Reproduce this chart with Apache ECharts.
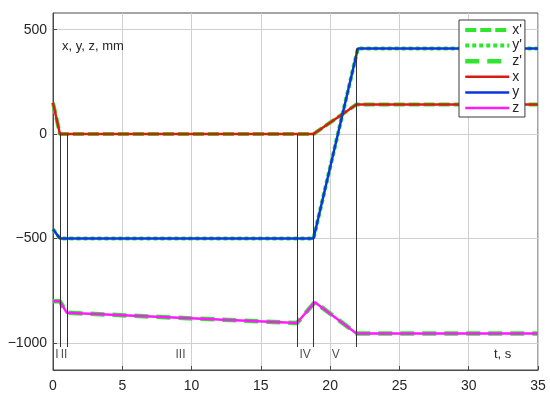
<!DOCTYPE html>
<html>
<head>
<meta charset="utf-8">
<script src="https://cdn.jsdelivr.net/npm/echarts@6/dist/echarts.min.js"></script>
<style>html,body{margin:0;padding:0;background:#fff}#c{width:550px;height:400px}</style>
</head>
<body>
<div id="c"></div>
<script>
// time points (s) and coordinates (mm)
var tX = [0, 0.5, 18.8, 21.9, 35];
var xVals = [150, 0, 0, 142, 142];
var tY = [0, 0.5, 18.8, 22.0, 35];
var yVals = [-456, -500, -500, 410, 410];
var tZ = [0, 0.5, 1.0, 17.6, 18.9, 21.9, 35];
var zVals = [-801, -801, -856, -905, -805, -955, -955];

var xTicks = [0, 5, 10, 15, 20, 25, 30, 35];
var yTicks = [-1000, -500, 0, 500];

// phase boundaries: time, top value of marker line
var phaseTimes = [0.5, 1.0, 17.6, 18.8, 21.9];
var phaseTops = [0, 0, 0, 0, 410];
var phaseBottom = -1020;
var phaseNames = ['I', 'II', 'III', 'IV', 'V'];
var phaseLabelT = [0.28, 0.8, 9.2, 18.2, 20.4];
var phaseLabelV = -1057;

function pairs(t, v) { return t.map(function (tt, i) { return [tt, v[i]]; }); }

var green = '#2ee62e';
var red = '#dc1a14', blue = '#0a35e0', mag = '#ff1aff';
var font = 'Liberation Sans, Arial, sans-serif';

var chart = echarts.init(document.getElementById('c'), null, {renderer: 'canvas'});

var phaseLines = phaseTimes.map(function (t, i) {
  return [{coord: [t, phaseTops[i]]}, {coord: [t, phaseBottom]}];
});
var phaseLabelData = phaseNames.map(function (n, i) { return {value: [phaseLabelT[i], phaseLabelV], name: n}; });

var styles = {
  "x'": {color: green, width: 4, type: [11, 4]},
  "y'": {color: green, width: 4, type: [4, 3]},
  "z'": {color: green, width: 4.5, type: [14, 8]},
  'x': {color: red, width: 2.5, type: 'solid'},
  'y': {color: blue, width: 2.5, type: 'solid'},
  'z': {color: mag, width: 2.5, type: 'solid'}
};
var legendNames = ["x'", "y'", "z'", 'x', 'y', 'z'];

function lineSeries(name, t, v, z) {
  var s = styles[name];
  return {name: name, type: 'line', data: pairs(t, v), symbol: 'none', z: z,
    itemStyle: {color: s.color}, lineStyle: {color: s.color, width: s.width, type: s.type}};
}

chart.setOption({
  animation: false,
  grid: {left: 53, right: 12, top: 13, bottom: 30, show: true, borderColor: '#4a4a4a', borderWidth: 1, backgroundColor: '#fff'},
  legend: {
    orient: 'vertical', left: 459, top: 20,
    backgroundColor: '#fff', borderColor: '#3a3a3a', borderWidth: 1,
    padding: [3, 3, 2, 4], itemGap: 1.6, itemWidth: 44, itemHeight: 14,
    textStyle: {fontFamily: font, fontSize: 14, color: '#262626', padding: [0, 0, 0, -2]},
    data: legendNames.map(function (n) {
      var s = styles[n];
      return {name: n, itemStyle: {color: s.color, opacity: 0}, lineStyle: {color: s.color, width: s.width, type: s.type}};
    })
  },
  xAxis: {
    type: 'value', min: 0, max: 35, interval: 5,
    axisLine: {show: true, onZero: false, lineStyle: {color: '#4a4a4a'}},
    axisTick: {show: true, inside: true, length: 4, lineStyle: {color: '#4a4a4a'}},
    axisLabel: {fontFamily: font, fontSize: 14, color: '#262626', margin: 9},
    splitLine: {show: true, lineStyle: {color: '#cfcfcf', width: 1}}
  },
  yAxis: {
    type: 'value', min: -1130, max: 580,
    axisLine: {show: true, onZero: false, lineStyle: {color: '#4a4a4a'}},
    axisTick: {show: true, inside: true, length: 4, customValues: yTicks, lineStyle: {color: '#4a4a4a'}},
    axisLabel: {fontFamily: font, fontSize: 14, color: '#262626', margin: 6, customValues: yTicks,
      formatter: function (v) { return String(v).replace('-', '\u2212'); }},
    splitLine: {show: true, lineStyle: {color: '#cfcfcf', width: 1}}
  },
  graphic: [
    {type: 'text', left: 62, top: 40, z: 100, style: {text: 'x, y, z, mm', font: '13px ' + font, fill: '#262626'}},
    {type: 'text', left: 494, top: 348, z: 100, style: {text: 't, s', font: '13px ' + font, fill: '#262626'}}
  ],
  series: [
    {name: 'phases', type: 'line', data: [], silent: true,
      markLine: {symbol: 'none', silent: true, label: {show: false}, animation: false,
        lineStyle: {color: '#333', width: 1, type: 'solid'}, data: phaseLines}},
    {name: 'phaseLabels', type: 'scatter', symbolSize: 0, data: phaseLabelData, silent: true,
      label: {show: true, position: 'inside', formatter: '{b}', fontFamily: font, fontSize: 12, color: '#262626'}},
    lineSeries("x'", tX, xVals, 2),
    lineSeries("y'", tY, yVals, 2),
    lineSeries("z'", tZ, zVals, 2),
    lineSeries('x', tX, xVals, 3),
    lineSeries('y', tY, yVals, 3),
    lineSeries('z', tZ, zVals, 3)
  ]
});
</script>
</body>
</html>
